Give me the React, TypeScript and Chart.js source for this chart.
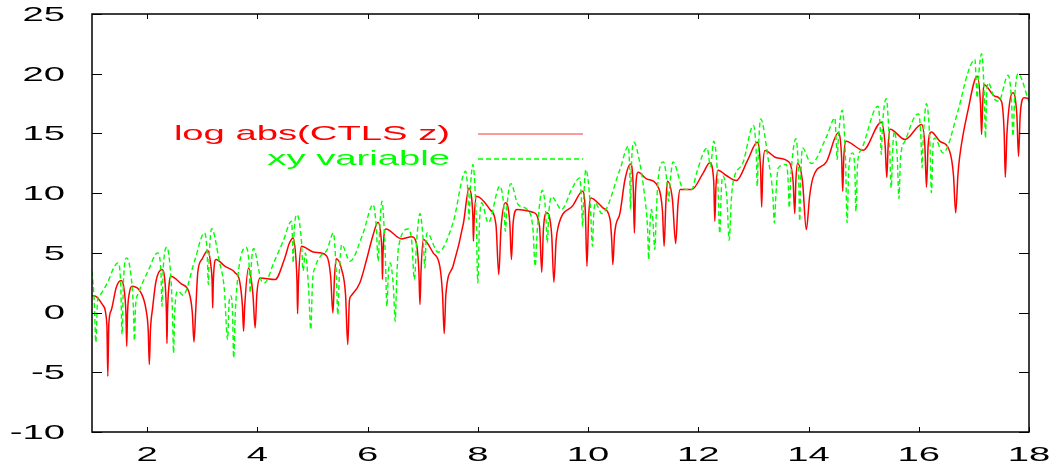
import React, { useEffect, useRef } from "react";
import { Chart, registerables } from "chart.js";

Chart.register(...registerables);

// ---- data ----
const redLabel = "log abs(CTLS z)";
const greenLabel = "xy variable";

const xTicks = [2, 4, 6, 8, 10, 12, 14, 16, 18];
const yTicks = [-10, -5, 0, 5, 10, 15, 20, 25];

const redSeries: [number, number][] = [
  [1.0, 1.42], [1.07, 1.35], [1.2, 0.6], [1.27, -1.0], [1.287, -5.33], [1.305, -1.0], [1.35, 0.2], [1.44, 2.1], [1.53, 2.68],
  [1.58, 2.0], [1.615, 0.0], [1.63, -2.82], [1.645, 0.0], [1.68, 1.7], [1.727, 2.2], [1.89, 1.65], [1.98, 0.25], [2.02, -1.5],
  [2.04, -4.35], [2.06, -1.5], [2.1, 0.39], [2.16, 2.6], [2.27, 3.6], [2.33, 2.2], [2.35, 0.0], [2.36, -2.6], [2.37, 0.0],
  [2.4, 2.4], [2.43, 3.04], [2.62, 2.4], [2.76, 1.7], [2.82, 0.0], [2.85, -2.46], [2.88, 0.0], [2.92, 3.4], [3.0, 4.5],
  [3.1, 5.19], [3.16, 3.8], [3.18, 2.5], [3.19, 0.39], [3.2, 2.5], [3.25, 4.44], [3.41, 3.88], [3.6, 3.32], [3.68, 2.6],
  [3.73, 0.5], [3.75, -1.56], [3.77, 0.5], [3.84, 3.74], [3.92, 1.5], [3.96, -1.28], [3.99, 1.5], [4.05, 2.9], [4.32, 2.76],
  [4.5, 4.6], [4.58, 5.8], [4.65, 6.25], [4.7, 4.5], [4.72, 2.5], [4.73, -0.09], [4.745, 2.5], [4.8, 5.55], [5.0, 5.1],
  [5.14, 5.0], [5.26, 4.72], [5.33, 3.0], [5.37, -0.03], [5.4, 3.0], [5.43, 4.5], [5.53, 3.6], [5.6, 1.5], [5.64, -2.68],
  [5.67, 1.0], [5.7, 1.4], [5.86, 2.5], [5.98, 4.4], [6.1, 6.5], [6.19, 7.56], [6.24, 6.5], [6.26, 5.0], [6.27, 2.76],
  [6.28, 5.0], [6.33, 7.0], [6.62, 6.17], [6.8, 6.35], [6.88, 5.9], [6.93, 3.5], [6.95, 0.67], [6.97, 3.5], [7.01, 6.11],
  [7.19, 5.0], [7.31, 3.88], [7.36, 1.5], [7.39, -1.76], [7.42, 1.5], [7.55, 3.88], [7.74, 7.51], [7.84, 10.44], [7.89, 9.5],
  [7.91, 8.0], [7.92, 5.97], [7.935, 8.0], [7.98, 9.74], [8.22, 8.63], [8.33, 7.3], [8.38, 3.18], [8.42, 7.0], [8.5, 9.19],
  [8.58, 7.5], [8.61, 4.44], [8.64, 7.5], [8.71, 8.63], [9.0, 8.4], [9.12, 7.2], [9.16, 3.38], [9.19, 7.0], [9.25, 8.35],
  [9.34, 6.5], [9.38, 2.54], [9.42, 6.0], [9.46, 7.23], [9.73, 9.0], [9.9, 10.16], [9.95, 8.5], [9.98, 3.88], [10.01, 8.0],
  [10.05, 9.6], [10.27, 8.77], [10.4, 7.79], [10.43, 6.0], [10.45, 4.02], [10.48, 6.5], [10.58, 8.35], [10.67, 11.14],
  [10.77, 12.45], [10.82, 10.5], [10.84, 6.67], [10.86, 10.0], [10.91, 11.75], [11.06, 11.2], [11.27, 10.53], [11.35, 8.5],
  [11.38, 5.55], [11.41, 9.0], [11.44, 11.0], [11.53, 9.5], [11.59, 5.78], [11.63, 9.0], [11.67, 10.3], [11.88, 10.3],
  [12.09, 11.7], [12.21, 12.54], [12.28, 11.0], [12.3, 7.65], [12.32, 10.5], [12.36, 11.92], [12.5, 11.5], [12.69, 11.05],
  [12.9, 12.8], [13.07, 14.26], [13.13, 12.0], [13.15, 8.85], [13.17, 12.0], [13.21, 13.57], [13.42, 12.96], [13.65, 12.59],
  [13.72, 11.0], [13.75, 8.29], [13.77, 11.0], [13.8, 12.48], [13.89, 11.0], [13.96, 6.95], [14.02, 9.74], [14.08, 11.28],
  [14.33, 12.67], [14.54, 15.05], [14.6, 13.0], [14.62, 10.16], [14.64, 13.0], [14.68, 14.35], [14.99, 13.59], [15.32, 15.94],
  [15.39, 14.0], [15.42, 11.3], [15.445, 14.0], [15.48, 15.35], [15.75, 14.49], [16.05, 15.75], [16.11, 14.0], [16.14, 10.5],
  [16.17, 14.0], [16.23, 15.13], [16.38, 14.35], [16.56, 13.51], [16.63, 11.5], [16.67, 8.35], [16.71, 11.5], [16.74, 12.96],
  [16.89, 16.86], [17.06, 19.79], [17.12, 17.5], [17.14, 14.91], [17.16, 17.5], [17.18, 19.1], [17.38, 18.12], [17.5, 17.7],
  [17.55, 15.0], [17.57, 11.33], [17.6, 15.0], [17.71, 18.4], [17.78, 16.5], [17.81, 13.09], [17.84, 16.5], [17.91, 17.98],
  [18.0, 17.92],
];

const greenSeries: [number, number][] = [
  [1.0, 3.46], [1.04, 1.0], [1.07, -2.5], [1.1, 1.0], [1.13, 1.37], [1.29, 2.6], [1.4, 3.8], [1.47, 4.16], [1.52, 2.5],
  [1.546, -1.84], [1.57, 2.5], [1.63, 4.58], [1.71, 3.0], [1.75, 0.5], [1.77, -2.35], [1.79, 0.5], [1.84, 1.6], [2.02, 3.5],
  [2.19, 5.0], [2.25, 3.5], [2.27, 0.53], [2.29, 3.5], [2.36, 5.47], [2.43, 3.0], [2.46, 0.0], [2.48, -3.38], [2.5, 0.0],
  [2.56, 1.8], [2.65, 1.45], [2.86, 4.3], [3.04, 6.67], [3.09, 5.0], [3.11, 2.35], [3.13, 5.0], [3.17, 7.03], [3.31, 4.3],
  [3.4, 2.0], [3.46, -2.26], [3.49, 1.0], [3.52, 1.4], [3.55, 0.0], [3.57, -3.8], [3.6, 0.0], [3.65, 3.2], [3.79, 5.47],
  [3.85, 4.0], [3.87, 1.65], [3.89, 4.0], [3.93, 5.36], [4.08, 2.6], [4.13, 2.49], [4.3, 4.2], [4.47, 6.0], [4.62, 7.65],
  [4.635, 6.5], [4.65, 4.16], [4.665, 6.5], [4.72, 8.2], [4.8, 6.0], [4.83, 3.5], [4.87, 5.0], [4.93, 2.0], [4.97, -1.42],
  [5.0, 2.5], [5.05, 3.8], [5.17, 4.86], [5.26, 5.2], [5.38, 6.67], [5.43, 3.5], [5.46, -0.17], [5.49, 3.5], [5.53, 5.69],
  [5.68, 4.3], [5.92, 6.67], [6.1, 9.05], [6.16, 7.0], [6.19, 4.3], [6.22, 7.0], [6.26, 9.32], [6.32, 5.0], [6.35, 0.53],
  [6.38, 3.5], [6.41, 4.16], [6.47, 2.0], [6.5, -0.73], [6.53, 3.0], [6.56, 5.42], [6.74, 7.0], [6.8, 6.0], [6.85, 2.76],
  [6.89, 6.0], [6.95, 8.29], [7.01, 6.0], [7.04, 3.74], [7.06, 6.0], [7.08, 6.67], [7.28, 5.05], [7.55, 7.51], [7.78, 11.83],
  [7.82, 10.0], [7.84, 7.79], [7.86, 10.0], [7.91, 12.4], [7.97, 8.0], [8.0, 2.49], [8.03, 7.5], [8.07, 9.19], [8.19, 7.51],
  [8.4, 10.58], [8.47, 9.0], [8.5, 6.81], [8.53, 9.0], [8.6, 10.8], [8.73, 9.05], [8.9, 8.6], [9.0, 7.0], [9.04, 3.88],
  [9.08, 7.0], [9.17, 10.24], [9.23, 8.5], [9.26, 5.84], [9.29, 8.5], [9.34, 9.69], [9.52, 8.63], [9.7, 10.3], [9.85, 11.28],
  [9.88, 9.5], [9.9, 7.23], [9.92, 9.5], [9.96, 11.98], [10.04, 9.0], [10.08, 5.55], [10.1, 8.0], [10.13, 9.2], [10.25, 8.29],
  [10.58, 12.0], [10.73, 13.93], [10.755, 12.0], [10.77, 8.63], [10.785, 12.0], [10.83, 14.26], [10.94, 12.5], [11.02, 10.0],
  [11.08, 7.0], [11.1, 4.44], [11.12, 7.0], [11.15, 8.63], [11.18, 7.5], [11.21, 5.28], [11.24, 8.5], [11.27, 11.1],
  [11.37, 12.62], [11.43, 11.0], [11.46, 9.32], [11.49, 11.0], [11.54, 12.62], [11.73, 10.36], [11.88, 10.3], [11.97, 11.7],
  [12.16, 13.79], [12.22, 12.25], [12.28, 14.35], [12.35, 11.5], [12.39, 6.62], [12.42, 10.5], [12.45, 11.42], [12.52, 9.5],
  [12.56, 6.06], [12.6, 9.5], [12.63, 10.86], [12.81, 12.54], [13.0, 15.66], [13.05, 13.5], [13.07, 10.58], [13.09, 13.5],
  [13.13, 16.22], [13.27, 12.8], [13.35, 10.0], [13.38, 7.51], [13.41, 10.0], [13.45, 12.12], [13.6, 12.4], [13.63, 11.0],
  [13.65, 8.77], [13.68, 11.5], [13.77, 14.55], [13.82, 11.5], [13.84, 7.65], [13.86, 11.5], [13.89, 13.79], [14.05, 12.48],
  [14.33, 14.77], [14.48, 16.3], [14.5, 14.5], [14.52, 12.81], [14.54, 14.5], [14.61, 16.95], [14.67, 13.0], [14.7, 7.51],
  [14.73, 12.0], [14.8, 13.37], [14.84, 12.0], [14.86, 8.48], [14.89, 12.5], [14.96, 13.65], [15.26, 17.28], [15.3, 15.5],
  [15.32, 13.23], [15.34, 15.5], [15.41, 17.9], [15.47, 14.0], [15.5, 10.44], [15.53, 14.0], [15.56, 15.18], [15.61, 13.0],
  [15.64, 9.55], [15.67, 13.0], [15.75, 14.35], [15.93, 16.44], [16.0, 16.64], [16.04, 14.5], [16.06, 12.12], [16.08, 14.5],
  [16.14, 17.48], [16.2, 14.5], [16.23, 10.03], [16.26, 14.0], [16.29, 14.63], [16.44, 13.37], [16.71, 16.86], [16.89, 20.07],
  [17.02, 21.19], [17.04, 19.5], [17.06, 17.98], [17.08, 19.5], [17.14, 21.67], [17.19, 18.0], [17.21, 14.63], [17.23, 18.0],
  [17.26, 19.24], [17.38, 17.84], [17.45, 17.7], [17.62, 19.87], [17.68, 18.0], [17.71, 14.77], [17.74, 18.0], [17.8, 19.99],
  [18.0, 17.65],
];

// ---- styling ----
const RED = "#ff0000";
const GREEN = "#00ff00";
const RED_SAMPLE = "#ff9a9a";
const FONT = '21px "Liberation Sans", Arial, sans-serif';
const STRETCH = 1.82; // horizontally stretched glyphs as in the reference

function stretchedText(ctx: CanvasRenderingContext2D, text: string, x: number, y: number, align: CanvasTextAlign, color: string) {
  ctx.save();
  ctx.translate(x, y);
  ctx.scale(STRETCH, 1);
  ctx.font = FONT;
  ctx.fillStyle = color;
  ctx.textAlign = align;
  ctx.textBaseline = "middle";
  ctx.fillText(text, 0, 0);
  ctx.restore();
}

const framePlugin = {
  id: "gnuplotFrame",
  afterDraw(chart: any) {
    const { ctx, chartArea: a, scales } = chart;
    const xs = scales.x;
    const ys = scales.y;
    ctx.save();
    ctx.setLineDash([]);
    ctx.strokeStyle = "#000";
    ctx.lineWidth = 1.5;
    ctx.strokeRect(a.left, a.top, a.right - a.left, a.bottom - a.top);
    ctx.lineWidth = 1;
    ctx.beginPath();
    yTicks.forEach((v) => {
      const py = Math.round(ys.getPixelForValue(v)) + 0.5;
      ctx.moveTo(a.left, py); ctx.lineTo(a.left + 10, py);
      ctx.moveTo(a.right, py); ctx.lineTo(a.right - 10, py);
    });
    xTicks.forEach((v) => {
      const px = Math.round(xs.getPixelForValue(v)) + 0.5;
      ctx.moveTo(px, a.bottom); ctx.lineTo(px, a.bottom - 5);
      ctx.moveTo(px, a.top); ctx.lineTo(px, a.top + 5);
    });
    ctx.stroke();

    yTicks.forEach((v) => {
      stretchedText(ctx, String(v), a.left - 27, ys.getPixelForValue(v) + 1, "right", "#000");
    });
    xTicks.forEach((v) => {
      stretchedText(ctx, String(v), xs.getPixelForValue(v), a.bottom + 23, "center", "#000");
    });

    // legend (gnuplot style: text right-aligned, sample on the right)
    const textRight = a.left + 358;
    const sampleL = a.left + 386;
    const sampleR = a.left + 491;
    const redY = a.top + 119;
    const greenY = a.top + 144;
    stretchedText(ctx, chart.data.datasets[1].label, textRight, redY + 1, "right", RED);
    stretchedText(ctx, chart.data.datasets[0].label, textRight, greenY + 1, "right", GREEN);

    ctx.fillStyle = RED_SAMPLE;
    ctx.fillRect(sampleL, redY, sampleR - sampleL, 2);

    ctx.strokeStyle = GREEN;
    ctx.lineWidth = 1.5;
    ctx.setLineDash([5, 3]);
    ctx.beginPath();
    ctx.moveTo(sampleL, greenY + 1);
    ctx.lineTo(sampleR, greenY + 1);
    ctx.stroke();
    ctx.restore();
  },
};

export default function App() {
  const ref = useRef<HTMLCanvasElement>(null);
  useEffect(() => {
    if (!ref.current) return;
    const chart = new Chart(ref.current, {
      type: "line",
      data: {
        datasets: [
          {
            label: greenLabel,
            data: greenSeries.map(([x, y]) => ({ x, y })),
            borderColor: GREEN,
            borderWidth: 1.4,
            borderDash: [5, 3],
            pointRadius: 0,
            fill: false,
            tension: 0.4,
            cubicInterpolationMode: "monotone",
            order: 0,
          },
          {
            label: redLabel,
            data: redSeries.map(([x, y]) => ({ x, y })),
            borderColor: RED,
            borderWidth: 1.5,
            pointRadius: 0,
            fill: false,
            tension: 0.4,
            cubicInterpolationMode: "monotone",
            order: 1,
          },
        ],
      },
      options: {
        animation: false,
        responsive: false,
        events: [],
        layout: { padding: { left: 92, right: 29, top: 14, bottom: 40 } },
        scales: {
          x: { type: "linear", min: 1, max: 18, display: false },
          y: { type: "linear", min: -10, max: 25, display: false },
        },
        plugins: { legend: { display: false }, tooltip: { enabled: false } },
      },
      plugins: [framePlugin],
    } as any);
    return () => chart.destroy();
  }, []);
  return (
    <div style={{ position: "fixed", left: 0, top: 0, width: 1058, height: 472, background: "#fff" }}>
      <canvas ref={ref} width={1058} height={472} style={{ display: "block" }} />
    </div>
  );
}
